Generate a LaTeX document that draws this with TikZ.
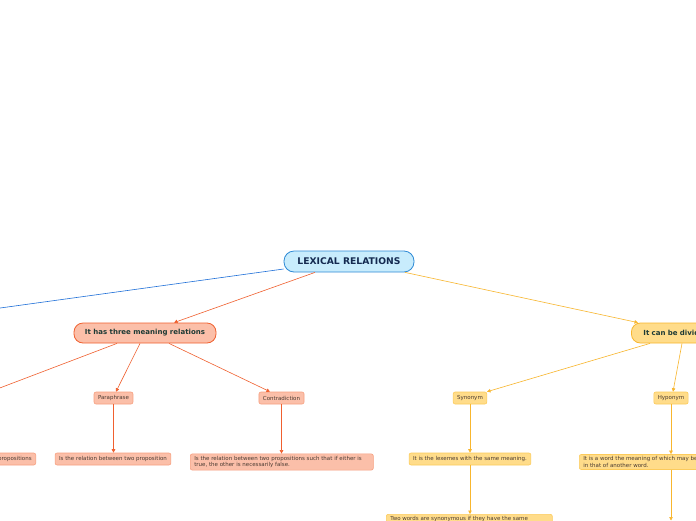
\documentclass[tikz,border=0pt]{standalone}
\usepackage{fontspec}
\setmainfont{DejaVu Sans}
\usetikzlibrary{arrows.meta}
\definecolor{rootfill}{HTML}{C8ECFC}
\definecolor{rootline}{HTML}{2E8AD6}
\definecolor{roottext}{HTML}{142A50}
\definecolor{redfill}{HTML}{FBBFA9}
\definecolor{redline}{HTML}{F0602F}
\definecolor{redleaf}{HTML}{F7A080}
\definecolor{yelfill}{HTML}{FFDC8A}
\definecolor{yelline}{HTML}{F8B62E}
\definecolor{yelleaf}{HTML}{FCCB5C}
\definecolor{bluline}{HTML}{1E6FD8}
\definecolor{darktext}{HTML}{1D3A35}
\definecolor{leaftext}{HTML}{4A3B32}
\tikzset{
  rootbox/.style={draw=rootline, fill=rootfill, line width=0.8pt, rounded corners=10pt,
    minimum width=130pt, minimum height=21pt, inner sep=0pt, text=roottext,
    font=\fontsize{9.2}{11}\selectfont\bfseries},
  branchred/.style={draw=redline, fill=redfill, line width=0.8pt, rounded corners=9pt,
    minimum width=142pt, minimum height=20pt, inner sep=0pt, text=darktext,
    font=\fontsize{7}{8}\selectfont\bfseries},
  branchyel/.style={branchred, draw=yelline, fill=yelfill},
  leafred/.style={draw=redleaf, fill=redfill, line width=0.6pt, rounded corners=2pt,
    minimum height=12pt, inner xsep=4pt, inner ysep=2pt, text=leaftext, align=flush left,
    font=\fontsize{5.5}{6.8}\selectfont},
  leafyel/.style={leafred, draw=yelleaf, fill=yelfill},
  redarrow/.style={draw=redline, line width=0.6pt, -{Triangle[length=3.5pt,width=3.5pt]}},
  yelarrow/.style={draw=yelline, line width=0.6pt, -{Triangle[length=3.5pt,width=3.5pt]}},
}
\begin{document}
\begin{tikzpicture}[x=1pt,y=-1pt]
  \useasboundingbox (0,0) rectangle (696,520);
  \clip (0,0) rectangle (696,520);
  \fill[white] (0,0) rectangle (696,520);
  % main nodes
  \node[rootbox] (root) at (349,261.5) {LEXICAL RELATIONS};
  \node[branchyel, anchor=west, minimum width=150pt, text width=138pt, inner xsep=12pt]
    (divide) at (631,333) {It can be divided into};
  \node[branchred] (three) at (145,333) {It has three meaning relations};
  % meaning relations
  \node[leafred] (para) at (113.5,398) {Paraphrase};
  \node[leafred] (contra) at (281.5,398) {Contradiction};
  \node[leafred, anchor=east] (entaildesc) at (36,459) {Is the relation between two propositions};
  \node[leafred] (paradesc) at (113,459) {Is the relation between two proposition};
  \node[leafred, text width=175pt, anchor=west] (contradesc) at (190,462)
    {Is the relation between two propositions such that if either is\\true, the other is necessarily false.};
  % divisions
  \node[leafyel] (syn) at (470,398) {Synonym};
  \node[leafyel] (hypo) at (671,398) {Hyponym};
  \node[leafyel] (syndesc) at (470,459) {It is the lexemes with the same meaning.};
  \node[leafyel, text width=160pt, anchor=west] (hypodesc) at (579,462)
    {It is a word the meaning of which may be included\\in that of another word.};
  \node[leafyel, text width=158pt, anchor=north west] (synmore) at (386,514)
    {Two words are synonymous if they have the same meaning.};
  % loose ends
  \coordinate (bluend) at (-10,309.4);
  \coordinate (entailend) at (-10,391.7);
  \coordinate (hypobelow) at (671,520.5);
  % connectors
  \draw[bluline, line width=0.6pt] ([yshift=-7.5pt]root.west) -- (bluend);
  \draw[redarrow] ([xshift=-34pt]root.south) -- ([xshift=29pt]three.north);
  \draw[yelarrow] ([xshift=56pt]root.south) -- ([xshift=7pt]divide.north west);
  \draw[redline, line width=0.6pt] ([xshift=-28pt]three.south) -- (entailend);
  \draw[redarrow] ([xshift=-5pt]three.south) -- ([xshift=2.5pt]para.north);
  \draw[redarrow] ([xshift=24pt]three.south) -- ([xshift=-11.5pt]contra.north);
  \draw[yelarrow] ([xshift=19pt]divide.south west) -- ([xshift=17pt]syn.north);
  \draw[yelarrow] ([xshift=51pt]divide.south west) -- ([xshift=2pt]hypo.north);
  \draw[redarrow] (para.south) -- (para.south |- paradesc.north);
  \draw[redarrow] (contra.south) -- (contra.south |- contradesc.north);
  \draw[yelarrow] (syn.south) -- (syn.south |- syndesc.north);
  \draw[yelarrow] (syndesc.south) -- (syndesc.south |- synmore.north);
  \draw[yelarrow] (hypo.south) -- (hypo.south |- hypodesc.north);
  \draw[yelarrow] (hypo.south |- hypodesc.south) -- (hypobelow);
\end{tikzpicture}
\end{document}
